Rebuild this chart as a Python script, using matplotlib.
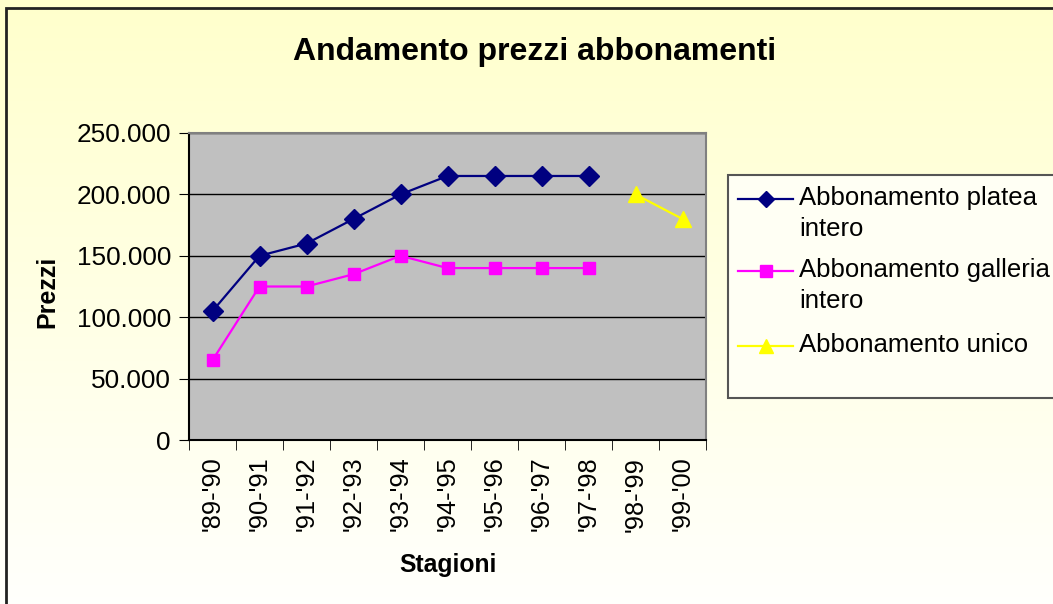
import numpy as np
import matplotlib
matplotlib.use("Agg")
from matplotlib import pyplot as plt
from matplotlib.patches import Rectangle
from matplotlib.ticker import FuncFormatter

plt.rcParams['font.family'] = ['Liberation Sans', 'DejaVu Sans']

stagioni = ["'89-'90", "'90-'91", "'91-'92", "'92-'93", "'93-'94", "'94-'95",
            "'95-'96", "'96-'97", "'97-'98", "'98-'99", "'99-'00"]
platea = [105000, 150000, 160000, 180000, 200000, 215000, 215000, 215000, 215000, np.nan, np.nan]
galleria = [65000, 125000, 125000, 135000, 150000, 140000, 140000, 140000, 140000, np.nan, np.nan]
unico = [np.nan] * 9 + [200000, 180000]
yticks = [0, 50000, 100000, 150000, 200000, 250000]
legend_labels = ['Abbonamento platea\nintero', 'Abbonamento galleria\nintero', 'Abbonamento unico']

W, H = 1053, 604
fig = plt.figure(figsize=(W / 100, H / 100), dpi=100)

# background gradient
bg = fig.add_axes([0, 0, 1, 1], zorder=-10)
grad = np.linspace(0, 1, 256).reshape(-1, 1)
top = np.array([1.0, 1.0, 0.80])
bot = np.array([1.0, 1.0, 0.99])
img = top + (bot - top) * grad[..., None]
bg.imshow(img, aspect='auto', extent=[0, 1, 0, 1], origin='upper')
bg.set_xlim(0, 1)
bg.set_ylim(0, 1)
bg.axis('off')
# outer border (top and left visible)
bg.add_patch(Rectangle((6 / W, -0.1), 1.2, 1 - 8 / H + 0.1, fill=False,
                       edgecolor='#222222', lw=2.0, transform=bg.transAxes))

ax = fig.add_axes([189 / W, 1 - 440 / H, (706 - 189) / W, (440 - 133) / H])
ax.set_facecolor('#C0C0C0')
x = np.arange(len(stagioni))
l1, = ax.plot(x, platea, color='#000080', marker='D', ms=10, lw=1.6)
l2, = ax.plot(x, galleria, color='#FF00FF', marker='s', ms=9, lw=1.6)
l3, = ax.plot(x, unico, color='#FFFF00', marker='^', ms=11, lw=1.6)

ax.set_xlim(-0.5, len(stagioni) - 0.5)
ax.set_ylim(0, 250000)
ax.set_yticks(yticks)
ax.yaxis.set_major_formatter(FuncFormatter(lambda v, p: f"{int(v):,}".replace(',', '.')))
ax.grid(axis='y', color='black', lw=1.0)
ax.set_axisbelow(True)
ax.set_xticks(x)
ax.set_xticklabels(stagioni, rotation=90)
ax.set_xticks(np.arange(-0.5, len(stagioni)), minor=True)
ax.tick_params(axis='x', which='major', length=0, pad=12, labelsize=18.3)
ax.tick_params(axis='x', which='minor', length=7, direction='out', color='black')
ax.tick_params(axis='y', length=7, direction='out', labelsize=18.8, pad=6)
for s in ax.spines.values():
    s.set_color('#808080')
    s.set_linewidth(1.5)
ax.spines['left'].set_color('black')
ax.spines['bottom'].set_color('black')

fig.text(535 / W, 1 - 52 / H, 'Andamento prezzi abbonamenti', ha='center', va='center',
         fontsize=23, fontweight='bold')
fig.text(448 / W, 1 - 565 / H, 'Stagioni', ha='center', va='center', fontsize=17.8, fontweight='bold')
fig.text(47 / W, 1 - 292 / H, 'Prezzi', ha='center', va='center', rotation=90,
         fontsize=18, fontweight='bold')

# legend box, drawn by hand so the key sits on the first text line
bg.add_patch(Rectangle((728 / W, 1 - 398 / H), 0.5, (398 - 175) / H, facecolor='#FFFFF4',
                       edgecolor='#555555', lw=1.5, transform=bg.transAxes, zorder=2))
baselines = [205, 277, 352]
key_ms = [8, 8, 10]
for line, lab, yb, kms in zip([l1, l2, l3], legend_labels, baselines, key_ms):
    yk = 1 - (yb - 6) / H
    bg.plot([738 / W, 793 / W], [yk, yk], color=line.get_color(), lw=1.6, zorder=3)
    bg.plot([765.5 / W], [yk], color=line.get_color(), marker=line.get_marker(),
            ms=kms, zorder=4)
    for i, part in enumerate(lab.split('\n')):
        fig.text(799 / W, 1 - (yb + 31 * i) / H, part, ha='left', va='baseline', fontsize=18.5)

fig.savefig('out.png', dpi=100)
